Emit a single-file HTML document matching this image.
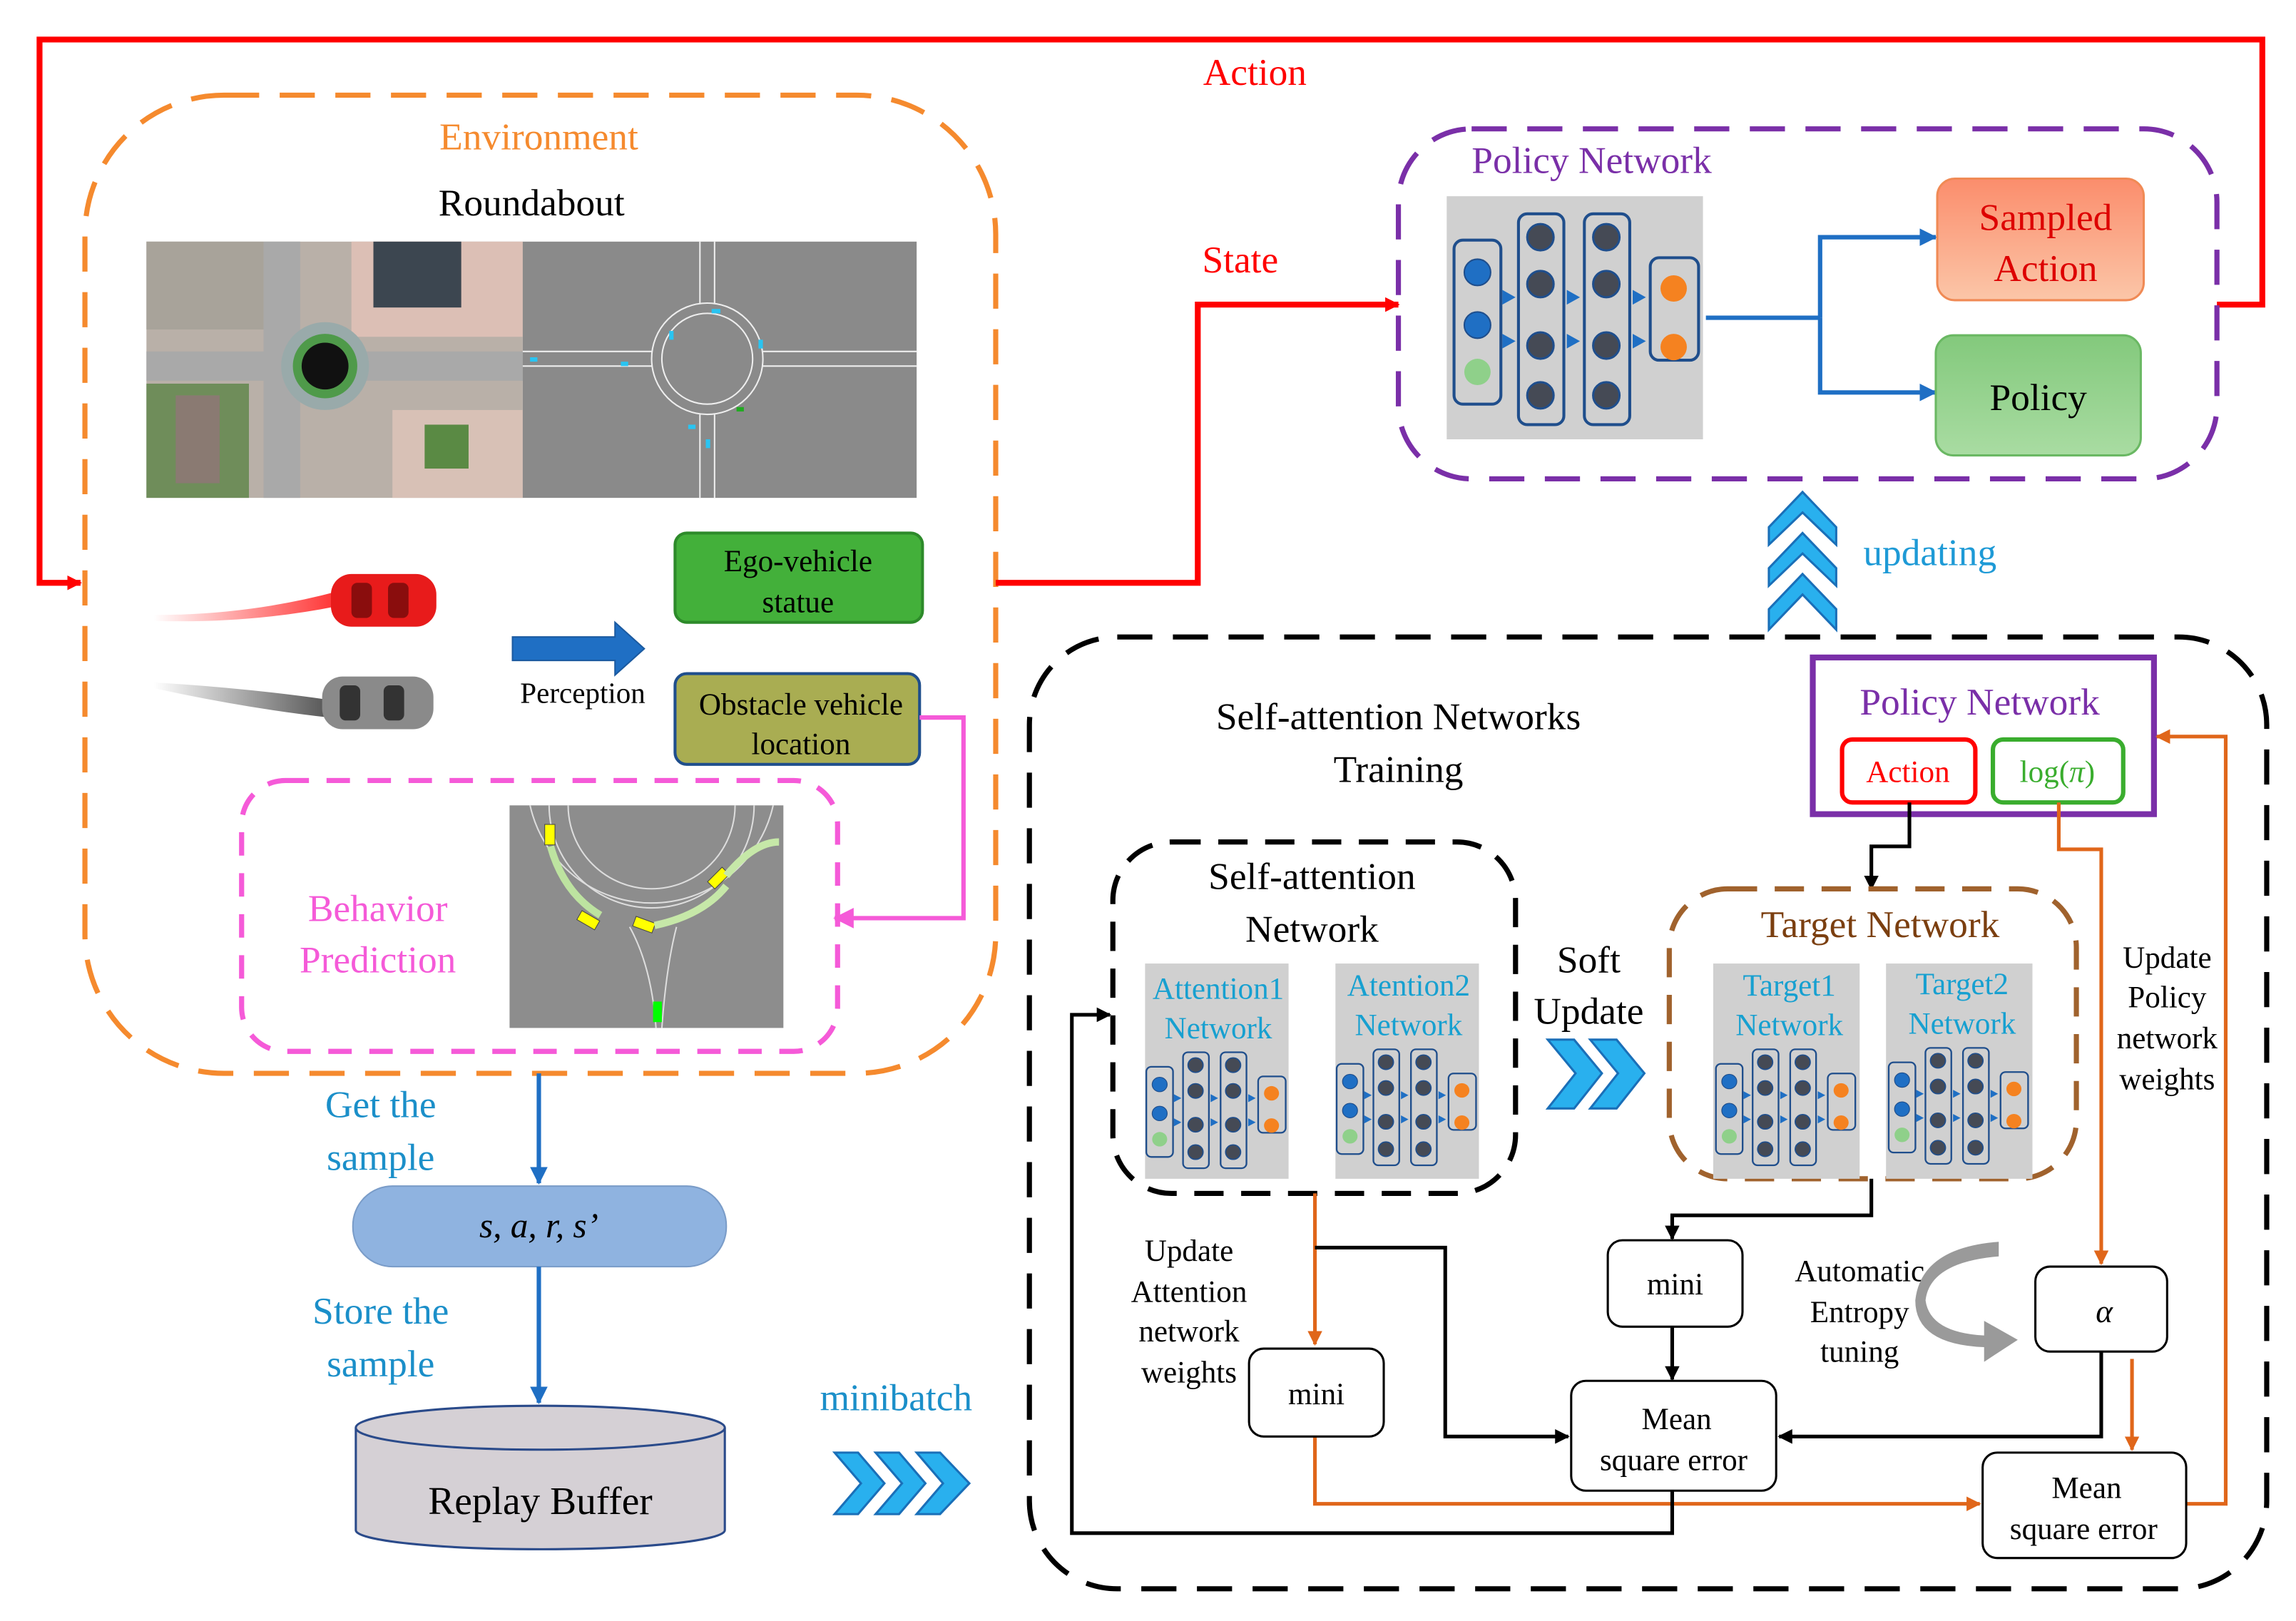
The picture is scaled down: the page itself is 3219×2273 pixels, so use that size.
<!DOCTYPE html>
<html><head><meta charset="utf-8"><style>
html,body{margin:0;padding:0;background:#fff;}
svg{display:block;}
text{font-family:"Liberation Serif",serif;}
</style></head><body>
<svg width="3219" height="2273" viewBox="0 0 1568 1107" preserveAspectRatio="none" xmlns="http://www.w3.org/2000/svg">
<defs>
<marker id="ar" markerWidth="10" markerHeight="10" refX="9" refY="5" orient="auto" markerUnits="userSpaceOnUse"><path d="M0,0 L10,5 L0,10 z" fill="#f00"/></marker>
<marker id="ab" markerWidth="10" markerHeight="10" refX="9" refY="5" orient="auto" markerUnits="userSpaceOnUse"><path d="M0,0 L10,5 L0,10 z" fill="#000"/></marker>
<marker id="ao" markerWidth="10" markerHeight="10" refX="9" refY="5" orient="auto" markerUnits="userSpaceOnUse"><path d="M0,0 L10,5 L0,10 z" fill="#e0661a"/></marker>
<marker id="abl" markerWidth="12" markerHeight="12" refX="11" refY="6" orient="auto" markerUnits="userSpaceOnUse"><path d="M0,0 L12,6 L0,12 z" fill="#1f6fc4"/></marker>
<marker id="ap" markerWidth="14" markerHeight="14" refX="13" refY="7" orient="auto" markerUnits="userSpaceOnUse"><path d="M0,0 L14,7 L0,14 z" fill="#f55ad8"/></marker>
<linearGradient id="rt" x1="0" x2="1"><stop offset="0" stop-color="#fff"/><stop offset="1" stop-color="#f33"/></linearGradient>
<linearGradient id="gt" x1="0" x2="1"><stop offset="0" stop-color="#fff"/><stop offset="1" stop-color="#555"/></linearGradient>
<linearGradient id="sa" x1="0" y1="0" x2="0" y2="1"><stop offset="0" stop-color="#fb8d6c"/><stop offset="1" stop-color="#fbc6a8"/></linearGradient>
<linearGradient id="pg" x1="0" y1="0" x2="0" y2="1"><stop offset="0" stop-color="#83c97c"/><stop offset="1" stop-color="#a9dca2"/></linearGradient>
<g id="nn">
 <g fill="none" stroke="#1f4e8c" stroke-width="2">
  <rect x="5" y="30" width="32" height="112" rx="6"/>
  <rect x="49" y="12" width="31" height="144" rx="6"/>
  <rect x="94" y="12" width="31" height="144" rx="6"/>
  <rect x="139" y="42" width="33" height="70" rx="6"/>
 </g>
 <circle cx="21" cy="52" r="9" fill="#1f6fc4" stroke="#1f4e8c"/>
 <circle cx="21" cy="88" r="9" fill="#1f6fc4" stroke="#1f4e8c"/>
 <circle cx="21" cy="120" r="9" fill="#8fd08a"/>
 <g fill="#454a55" stroke="#1f4e8c" stroke-width="1.5">
  <circle cx="64" cy="28" r="9"/><circle cx="64" cy="60" r="9"/><circle cx="64" cy="102" r="9"/><circle cx="64" cy="136" r="9"/>
  <circle cx="109" cy="28" r="9"/><circle cx="109" cy="60" r="9"/><circle cx="109" cy="102" r="9"/><circle cx="109" cy="136" r="9"/>
 </g>
 <circle cx="155" cy="63" r="9" fill="#f58220"/><circle cx="155" cy="103" r="9" fill="#f58220"/>
 <g fill="#1f6fc4">
  <path d="M38,64 l9,5 l-9,5z"/><path d="M38,94 l9,5 l-9,5z"/>
  <path d="M82,64 l9,5 l-9,5z"/><path d="M82,94 l9,5 l-9,5z"/>
  <path d="M127,64 l9,5 l-9,5z"/><path d="M127,94 l9,5 l-9,5z"/>
 </g>
</g>
</defs>

<!-- red action loop -->
<polyline points="1514,208 1545,208 1545,27 27,27 27,398 55,398" fill="none" stroke="#f00" stroke-width="4" marker-end="url(#ar)"/>
<text x="857" y="58" font-size="26" fill="#f00" text-anchor="middle">Action</text>

<!-- Environment -->
<rect x="58" y="65" width="622" height="668" rx="95" fill="none" stroke="#f58a2e" stroke-width="3.5" stroke-dasharray="24,14"/>
<text x="368" y="102" font-size="26" fill="#f58a2e" text-anchor="middle">Environment</text>
<text x="363" y="147" font-size="26" fill="#000" text-anchor="middle">Roundabout</text>

<!-- aerial image -->
<rect x="100" y="165" width="257" height="175" fill="#b9b0a8"/>
<rect x="100" y="165" width="80" height="60" fill="#a8a39a"/>
<rect x="240" y="165" width="117" height="65" fill="#dcbfb5"/>
<rect x="255" y="165" width="60" height="45" fill="#3c4650"/>
<rect x="100" y="262" width="70" height="78" fill="#6f8d5a"/>
<rect x="120" y="270" width="30" height="60" fill="#8a7a72"/>
<rect x="268" y="280" width="89" height="60" fill="#d8c1b6"/>
<rect x="290" y="290" width="30" height="30" fill="#5a8a44"/>
<rect x="100" y="240" width="257" height="20" fill="#a9a9a9"/>
<rect x="180" y="165" width="25" height="175" fill="#a9a9a9"/>
<circle cx="222" cy="250" r="30" fill="#9aa"/>
<circle cx="222" cy="250" r="22" fill="#4f9a4a"/>
<circle cx="222" cy="250" r="16" fill="#111"/>
<!-- schematic -->
<rect x="357" y="165" width="269" height="175" fill="#8a8a8a"/>
<g fill="none" stroke="#eee" stroke-width="1">
<circle cx="483" cy="245" r="38"/><circle cx="483" cy="245" r="31"/>
<line x1="357" y1="240" x2="445" y2="240"/><line x1="357" y1="250" x2="445" y2="250"/>
<line x1="521" y1="240" x2="626" y2="240"/><line x1="521" y1="250" x2="626" y2="250"/>
<line x1="478" y1="165" x2="478" y2="207"/><line x1="488" y1="165" x2="488" y2="207"/>
<line x1="478" y1="283" x2="478" y2="340"/><line x1="488" y1="283" x2="488" y2="340"/>
</g>
<g fill="#29c4f2"><rect x="486" y="211" width="6" height="3"/><rect x="457" y="226" width="3" height="6"/><rect x="518" y="232" width="3" height="6"/><rect x="424" y="247" width="5" height="3"/><rect x="362" y="244" width="5" height="3"/><rect x="482" y="300" width="3" height="6"/><rect x="470" y="290" width="5" height="3"/></g>
<rect x="503" y="278" width="5" height="3" fill="#2a2"/>

<!-- cars -->
<path d="M105,420 Q170,420 230,404 L230,414 Q170,426 105,424z" fill="url(#rt)"/>
<rect x="226" y="392" width="72" height="36" rx="14" fill="#e81b1b"/>
<rect x="240" y="398" width="14" height="24" rx="4" fill="#8a0d0d"/><rect x="265" y="398" width="14" height="24" rx="4" fill="#8a0d0d"/>
<path d="M105,466 Q170,470 225,478 L225,490 Q170,484 105,470z" fill="url(#gt)"/>
<rect x="220" y="462" width="76" height="36" rx="14" fill="#8a8a8a"/>
<rect x="232" y="468" width="14" height="24" rx="4" fill="#333"/><rect x="262" y="468" width="14" height="24" rx="4" fill="#333"/>

<!-- perception arrow -->
<path d="M350,435 L420,435 L420,425 L440,443 L420,461 L420,451 L350,451z" fill="#1f6fc4" stroke="#1b5aa0"/>
<text x="398" y="480" font-size="20" text-anchor="middle">Perception</text>

<rect x="461" y="364" width="169" height="61" rx="8" fill="#43b03a" stroke="#2d8a2a" stroke-width="2"/>
<text x="545" y="390" font-size="21" text-anchor="middle">Ego-vehicle</text>
<text x="545" y="418" font-size="21" text-anchor="middle">statue</text>
<rect x="461" y="460" width="167" height="62" rx="8" fill="#a9ad52" stroke="#1f4e8c" stroke-width="2"/>
<text x="547" y="488" font-size="21" text-anchor="middle">Obstacle vehicle</text>
<text x="547" y="515" font-size="21" text-anchor="middle">location</text>

<polyline points="628,490 658,490 658,627 570,627" fill="none" stroke="#f55ad8" stroke-width="3" marker-end="url(#ap)"/>

<!-- behavior -->
<rect x="165" y="533" width="407" height="185" rx="30" fill="none" stroke="#f55ad8" stroke-width="3.5" stroke-dasharray="16,12"/>
<text x="258" y="629" font-size="26" fill="#f55ad8" text-anchor="middle">Behavior</text>
<text x="258" y="664" font-size="26" fill="#f55ad8" text-anchor="middle">Prediction</text>
<rect x="348" y="550" width="187" height="152" fill="#8d8d8d"/>
<g fill="none" stroke="#ddd" stroke-width="1">
<path d="M362,550 A85,85 0 0 0 528,550"/><path d="M375,550 A70,70 0 0 0 515,550"/><path d="M388,550 A57,57 0 0 0 502,550"/>
<path d="M430,633 Q445,660 448,702"/><path d="M462,633 Q455,660 452,702"/>
</g>
<g fill="#ff0" stroke="#444" stroke-width="0.5"><rect x="372" y="563" width="7" height="14"/><rect x="395" y="625" width="14" height="7" transform="rotate(30 402 628)"/><rect x="433" y="628" width="14" height="7" transform="rotate(20 440 631)"/><rect x="484" y="596" width="14" height="7" transform="rotate(-45 491 600)"/></g>
<rect x="446" y="684" width="6" height="14" fill="#0f0"/>
<path d="M376,578 Q385,610 410,625" stroke="#bde3a0" stroke-width="5" fill="none"/>
<path d="M447,632 Q480,625 496,605" stroke="#c6e8a8" stroke-width="5" fill="none"/>
<path d="M496,598 Q515,575 532,575" stroke="#c6e8a8" stroke-width="5" fill="none"/>

<!-- state line -->
<polyline points="680,398 818,398 818,208 955,208" fill="none" stroke="#f00" stroke-width="4" marker-end="url(#ar)"/>
<text x="847" y="186" font-size="26" fill="#f00" text-anchor="middle">State</text>

<!-- policy network top -->
<rect x="955" y="88" width="559" height="239" rx="50" fill="none" stroke="#7a2fa8" stroke-width="3.5" stroke-dasharray="24,14"/>
<text x="1087" y="118" font-size="26" fill="#7a2fa8" text-anchor="middle">Policy Network</text>
<rect x="988" y="134" width="175" height="166" fill="#d0d0d0"/>
<use href="#nn" transform="translate(988,134)"/>
<polyline points="1165,217 1243,217" stroke="#1f6fc4" stroke-width="3" fill="none"/>
<polyline points="1243,217 1243,162 1322,162" stroke="#1f6fc4" stroke-width="3" fill="none" marker-end="url(#abl)"/>
<polyline points="1243,217 1243,268 1322,268" stroke="#1f6fc4" stroke-width="3" fill="none" marker-end="url(#abl)"/>
<rect x="1323" y="122" width="141" height="83" rx="12" fill="url(#sa)" stroke="#f08a55" stroke-width="1.5"/>
<text x="1397" y="157" font-size="26" fill="#d00" text-anchor="middle">Sampled</text>
<text x="1397" y="192" font-size="26" fill="#d00" text-anchor="middle">Action</text>
<rect x="1322" y="229" width="140" height="82" rx="12" fill="url(#pg)" stroke="#6ab863" stroke-width="1.5"/>
<text x="1392" y="280" font-size="26" text-anchor="middle">Policy</text>

<!-- updating chevrons -->
<g fill="#29b0ee" stroke="#1a6fb8" stroke-width="1.5">
<path d="M1208,360 L1231,336 L1254,360 L1254,372 L1231,350 L1208,372z"/>
<path d="M1208,388 L1231,364 L1254,388 L1254,400 L1231,378 L1208,400z"/>
<path d="M1208,416 L1231,392 L1254,416 L1254,430 L1231,406 L1208,430z"/>
</g>
<text x="1318" y="386" font-size="26" fill="#1e9ad6" text-anchor="middle">updating</text>

<!-- left bottom -->
<line x1="368" y1="733" x2="368" y2="808" stroke="#1f6fc4" stroke-width="3" marker-end="url(#abl)"/>
<text x="260" y="763" font-size="26" fill="#1b8fc9" text-anchor="middle">Get the</text>
<text x="260" y="799" font-size="26" fill="#1b8fc9" text-anchor="middle">sample</text>
<rect x="241" y="810" width="255" height="55" rx="27" fill="#8fb3e0" stroke="#7a9cc8"/>
<text x="368" y="845" font-size="24" font-style="italic" text-anchor="middle">s, a, r, s’</text>
<line x1="368" y1="865" x2="368" y2="958" stroke="#1f6fc4" stroke-width="3" marker-end="url(#abl)"/>
<text x="260" y="904" font-size="26" fill="#1b8fc9" text-anchor="middle">Store the</text>
<text x="260" y="940" font-size="26" fill="#1b8fc9" text-anchor="middle">sample</text>
<path d="M243,975 L243,1045 A126,13 0 0 0 495,1045 L495,975" fill="#d5d0d5" stroke="#2a4a8a" stroke-width="1.5"/>
<ellipse cx="369" cy="975" rx="126" ry="15" fill="#d5d0d5" stroke="#2a4a8a" stroke-width="1.5"/>
<text x="369" y="1034" font-size="27" text-anchor="middle">Replay Buffer</text>
<text x="612" y="963" font-size="26" fill="#1b8fc9" text-anchor="middle">minibatch</text>
<g fill="#29b0ee" stroke="#1a6fb8" stroke-width="1.5">
<path d="M570,992 L586,992 L604,1013 L586,1034 L570,1034 L588,1013z"/>
<path d="M598,992 L614,992 L632,1013 L614,1034 L598,1034 L616,1013z"/>
<path d="M626,992 L642,992 L662,1013 L642,1034 L626,1034 L644,1013z"/>
</g>

<!-- training box -->
<rect x="703" y="435" width="845" height="650" rx="60" fill="none" stroke="#000" stroke-width="3.5" stroke-dasharray="24,14"/>
<text x="955" y="498" font-size="26" text-anchor="middle">Self-attention Networks</text>
<text x="955" y="534" font-size="26" text-anchor="middle">Training</text>

<rect x="1238" y="449" width="233" height="107" fill="none" stroke="#7a2fa8" stroke-width="4"/>
<text x="1352" y="488" font-size="26" fill="#7a2fa8" text-anchor="middle">Policy Network</text>
<rect x="1258" y="505" width="91" height="43" rx="7" fill="none" stroke="#f00" stroke-width="3"/>
<text x="1303" y="534" font-size="21" fill="#f00" text-anchor="middle">Action</text>
<rect x="1361" y="505" width="89" height="43" rx="7" fill="none" stroke="#3aad2e" stroke-width="3"/>
<text x="1405" y="534" font-size="21" fill="#3aad2e" text-anchor="middle">log(<tspan font-style="italic">π</tspan>)</text>
<polyline points="1304,548 1304,578 1278,578 1278,607" fill="none" stroke="#000" stroke-width="2.5" marker-end="url(#ab)"/>

<!-- self-attention -->
<rect x="760" y="575" width="275" height="240" rx="40" fill="none" stroke="#000" stroke-width="3.5" stroke-dasharray="20,12"/>
<text x="896" y="607" font-size="26" text-anchor="middle">Self-attention</text>
<text x="896" y="643" font-size="26" text-anchor="middle">Network</text>
<rect x="782" y="658" width="98" height="147" fill="#d0d0d0"/>
<rect x="912" y="658" width="98" height="147" fill="#d0d0d0"/>
<text x="832" y="682" font-size="21" fill="#17a0d0" text-anchor="middle">Attention1</text>
<text x="832" y="709" font-size="21" fill="#17a0d0" text-anchor="middle">Network</text>
<text x="962" y="680" font-size="21" fill="#17a0d0" text-anchor="middle">Atention2</text>
<text x="962" y="707" font-size="21" fill="#17a0d0" text-anchor="middle">Network</text>
<use href="#nn" transform="translate(780,712) scale(0.57,0.55)"/>
<use href="#nn" transform="translate(910,710) scale(0.57,0.55)"/>

<text x="1085" y="664" font-size="26" text-anchor="middle">Soft</text>
<text x="1085" y="699" font-size="26" text-anchor="middle">Update</text>
<g fill="#29b0ee" stroke="#1a6fb8" stroke-width="1.5">
<path d="M1057,710 L1075,710 L1094,733 L1075,757 L1057,757 L1076,733z"/>
<path d="M1086,710 L1104,710 L1123,733 L1104,757 L1086,757 L1105,733z"/>
</g>

<!-- target -->
<rect x="1140" y="607" width="278" height="198" rx="40" fill="none" stroke="#a0622d" stroke-width="3.5" stroke-dasharray="20,12"/>
<text x="1284" y="640" font-size="26" fill="#7b3f10" text-anchor="middle">Target Network</text>
<rect x="1170" y="658" width="100" height="147" fill="#d0d0d0"/>
<rect x="1288" y="658" width="100" height="147" fill="#d0d0d0"/>
<text x="1222" y="680" font-size="21" fill="#17a0d0" text-anchor="middle">Target1</text>
<text x="1222" y="707" font-size="21" fill="#17a0d0" text-anchor="middle">Network</text>
<text x="1340" y="679" font-size="21" fill="#17a0d0" text-anchor="middle">Target2</text>
<text x="1340" y="706" font-size="21" fill="#17a0d0" text-anchor="middle">Network</text>
<use href="#nn" transform="translate(1169,710) scale(0.57,0.55)"/>
<use href="#nn" transform="translate(1287,709) scale(0.57,0.55)"/>

<text x="1480" y="661" font-size="21" text-anchor="middle">Update</text>
<text x="1480" y="688" font-size="21" text-anchor="middle">Policy</text>
<text x="1480" y="716" font-size="21" text-anchor="middle">network</text>
<text x="1480" y="744" font-size="21" text-anchor="middle">weights</text>

<text x="812" y="861" font-size="21" text-anchor="middle">Update</text>
<text x="812" y="889" font-size="21" text-anchor="middle">Attention</text>
<text x="812" y="916" font-size="21" text-anchor="middle">network</text>
<text x="812" y="944" font-size="21" text-anchor="middle">weights</text>

<text x="1270" y="875" font-size="21" text-anchor="middle">Automatic</text>
<text x="1270" y="903" font-size="21" text-anchor="middle">Entropy</text>
<text x="1270" y="930" font-size="21" text-anchor="middle">tuning</text>
<path d="M1365,858 Q1318,862 1315,888 Q1318,910 1355,912 L1355,902 L1378,915 L1355,930 L1355,920 Q1308,918 1308,888 Q1312,852 1365,848z" fill="#9a9a9a"/>

<!-- connectors -->
<polyline points="898,815 898,918" fill="none" stroke="#e0661a" stroke-width="2.5" marker-end="url(#ao)"/>
<polyline points="898,852 987,852 987,981 1071,981" fill="none" stroke="#000" stroke-width="2.5" marker-end="url(#ab)"/>
<polyline points="1278,805 1278,830 1142,830 1142,846" fill="none" stroke="#000" stroke-width="2.5" marker-end="url(#ab)"/>
<polyline points="1142,906 1142,942" fill="none" stroke="#000" stroke-width="2.5" marker-end="url(#ab)"/>
<polyline points="1406,548 1406,580 1435,580 1435,863" fill="none" stroke="#e0661a" stroke-width="2.5" marker-end="url(#ao)"/>
<polyline points="1435,923 1435,981 1215,981" fill="none" stroke="#000" stroke-width="2.5" marker-end="url(#ab)"/>
<polyline points="1456,928 1456,990" fill="none" stroke="#e0661a" stroke-width="2.5" marker-end="url(#ao)"/>
<polyline points="898,981 898,1027 1352,1027" fill="none" stroke="#e0661a" stroke-width="2.5" marker-end="url(#ao)"/>
<polyline points="1493,1027 1520,1027 1520,503 1473,503" fill="none" stroke="#e0661a" stroke-width="2.5" marker-end="url(#ao)"/>
<polyline points="1142,1018 1142,1047 732,1047 732,693 758,693" fill="none" stroke="#000" stroke-width="2.5" marker-end="url(#ab)"/>

<!-- boxes -->
<rect x="853" y="921" width="92" height="60" rx="10" fill="#fff" stroke="#000" stroke-width="1.5"/>
<text x="899" y="959" font-size="21" text-anchor="middle">mini</text>
<rect x="1098" y="847" width="92" height="59" rx="10" fill="#fff" stroke="#000" stroke-width="1.5"/>
<text x="1144" y="884" font-size="21" text-anchor="middle">mini</text>
<rect x="1073" y="943" width="140" height="75" rx="10" fill="#fff" stroke="#000" stroke-width="1.5"/>
<text x="1145" y="976" font-size="21" text-anchor="middle">Mean</text>
<text x="1143" y="1004" font-size="21" text-anchor="middle">square error</text>
<rect x="1390" y="865" width="90" height="58" rx="10" fill="#fff" stroke="#000" stroke-width="1.5"/>
<text x="1437" y="903" font-size="22" font-style="italic" text-anchor="middle">α</text>
<rect x="1354" y="992" width="139" height="72" rx="10" fill="#fff" stroke="#000" stroke-width="1.5"/>
<text x="1425" y="1023" font-size="21" text-anchor="middle">Mean</text>
<text x="1423" y="1051" font-size="21" text-anchor="middle">square error</text>
</svg>
</body></html>
